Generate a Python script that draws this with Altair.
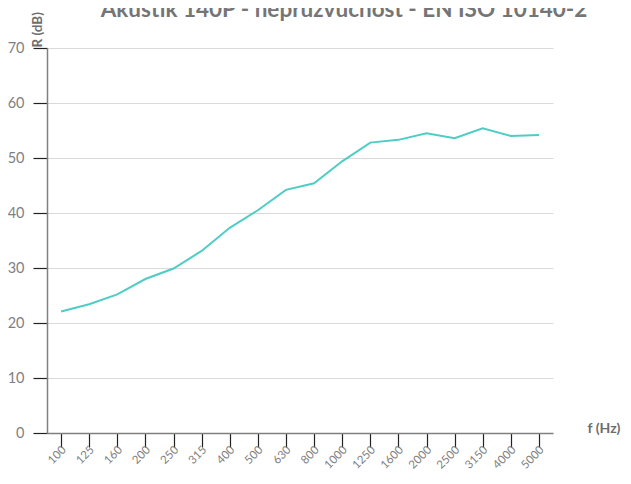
import altair as alt
import pandas as pd

freqs = ["100", "125", "160", "200", "250", "315", "400", "500", "630", "800",
         "1000", "1250", "1600", "2000", "2500", "3150", "4000", "5000"]
r_db = [22.1, 23.4, 25.2, 28.0, 29.9, 33.1, 37.3, 40.5, 44.2, 45.4,
        49.4, 52.8, 53.3, 54.5, 53.6, 55.4, 54.0, 54.2]

df = pd.DataFrame({"f": freqs, "R": r_db})

FONT = "Lato"
GREY = "#7f7f7f"

chart = alt.Chart(df).mark_line(color="#4ECDC4", strokeWidth=2).encode(
    x=alt.X("f:N", sort=freqs,
            scale=alt.Scale(type="point", padding=0.5),
            axis=alt.Axis(title="f (Hz)", labelAngle=-45, labelAlign="right",
                          labelBaseline="middle", labelFontSize=11.5,
                          labelColor=GREY, labelFont=FONT, labelPadding=1,
                          labelOffset=3,
                          tickSize=14, tickColor="#222222", tickWidth=1.2,
                          domainColor="#808080", domainWidth=1.5,
                          grid=False,
                          titleFont=FONT, titleFontSize=14, titleFontWeight="bold",
                          titleColor="#6d6d6d", titleAlign="left",
                          titleBaseline="middle", titleX=540, titleY=-5)),
    y=alt.Y("R:Q", scale=alt.Scale(domain=[0, 70], nice=False),
            axis=alt.Axis(title="R (dB)", values=[0, 10, 20, 30, 40, 50, 60, 70],
                          labelFontSize=14.5, labelColor=GREY, labelFont=FONT,
                          labelPadding=9, tickSize=14, tickColor="#222222",
                          tickWidth=1.2, domainColor="#808080", domainWidth=1.5,
                          gridColor="#d9d9d9", gridWidth=1.2,
                          titleFont=FONT, titleFontSize=13.5, titleFontWeight="bold",
                          titleColor="#6d6d6d", titleAngle=-90, titleAlign="left",
                          titleBaseline="middle", titleX=-10, titleY=-1)),
).properties(
    width=506,
    height=385,
    title=alt.TitleParams("Akustik 140P - neprůzvučnost - EN ISO 10140-2",
                          font=FONT, fontSize=22.5, fontWeight="bold",
                          color="#757575", anchor="middle", frame="group",
                          baseline="alphabetic", offset=-28, dx=44),
    autosize=alt.AutoSizeParams(type="none"),
    padding={"left": 39, "top": 40, "right": 70, "bottom": 38},
).configure_view(stroke=None)

chart.save("out.html", embed_options={"renderer": "svg", "actions": False})
